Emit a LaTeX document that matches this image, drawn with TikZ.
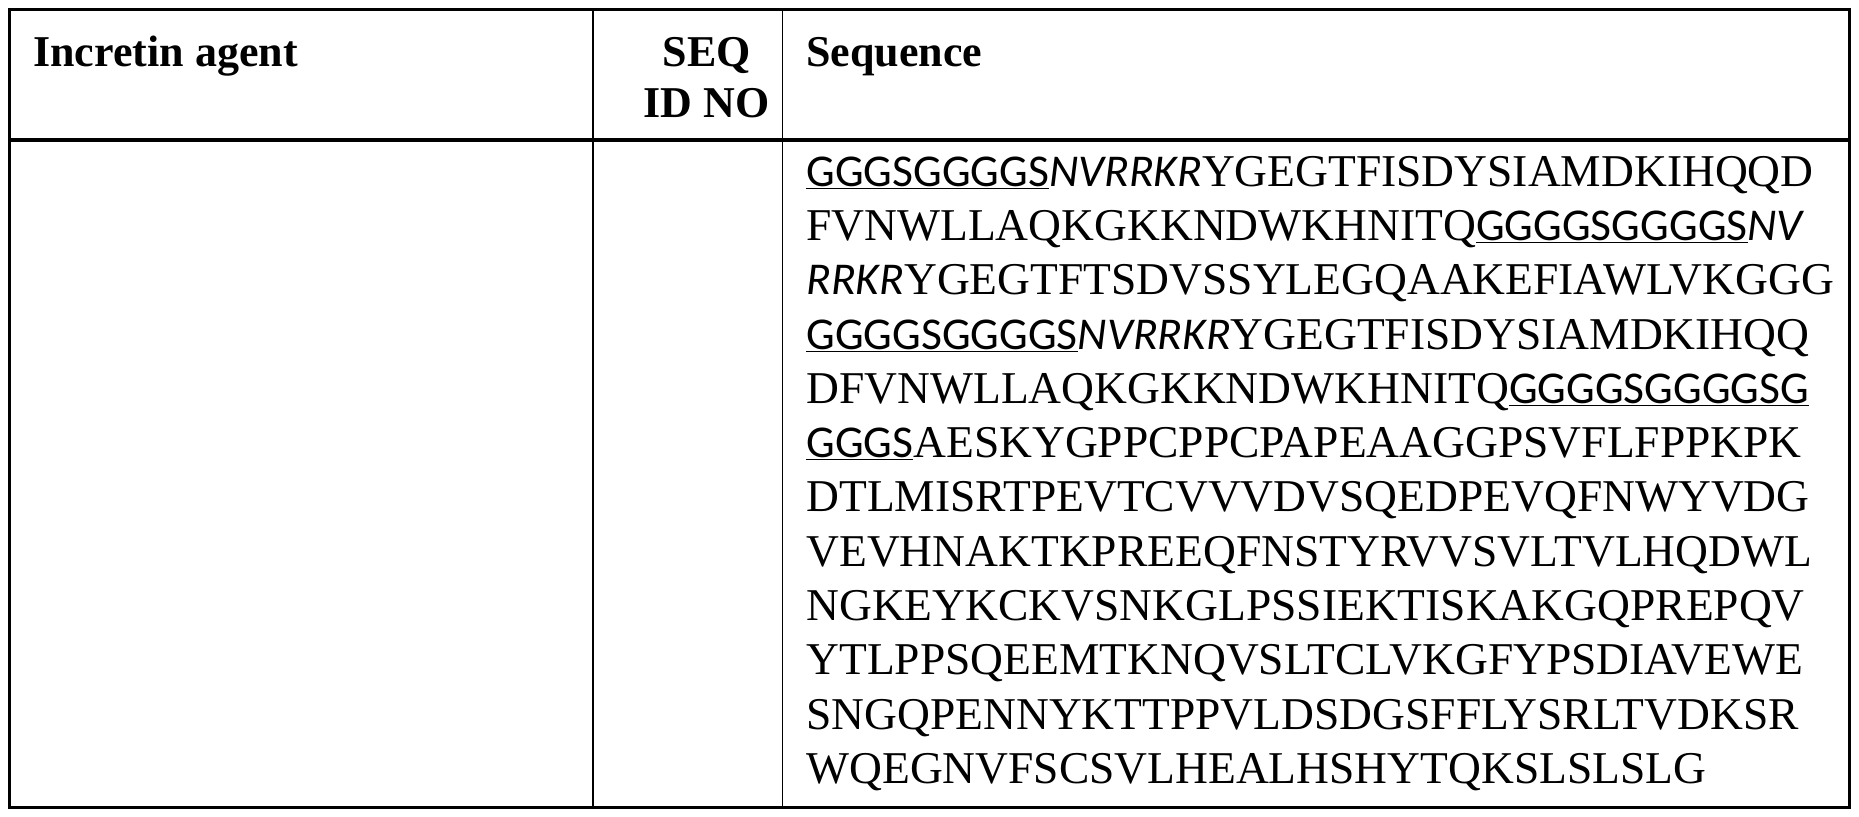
\documentclass[tikz,border=0pt]{standalone}
\usepackage{fontspec}
\setmainfont{Liberation Serif}
\newfontfamily\carl{Carlito}
\newcommand{\lk}[1]{\underline{\carl #1}}
\newcommand{\ik}[1]{{\carl\itshape #1}}
\begin{document}
\begin{tikzpicture}[x=1.1856pt,y=-1.1856pt,
  seq/.style={anchor=base west,inner sep=0pt,font=\fontsize{45.5}{45.5}\selectfont},
  hd/.style={anchor=base west,inner sep=0pt,font=\fontsize{44}{44}\selectfont\bfseries}]
\useasboundingbox (0,0) rectangle (1568,689);
\draw[line width=3.5pt] (8,8) rectangle (1560,681);
\draw[line width=3.5pt] (8,118) -- (1560,118);
\draw[line width=1.5pt] (500,8) -- (500,681);
\draw[line width=1.5pt] (660,8) -- (660,681);
\node[hd] (h1) at (28,56) {Incretin agent};
\node[hd,anchor=base] (h2) at (596,56) {SEQ};
\node[hd,anchor=base] (h3) at (596,99) {ID NO};
\node[hd] (h4) at (680,56) {Sequence};
\node[seq] (l1) at (680,157) {\lk{GGGSGGGGS}\ik{NVRRKR}YGEGTFISDYSIAMDKIHQQD};
\node[seq] (l2) at (680,202.8) {FVNWLLAQKGKKNDWKHNITQ\lk{GGGGSGGGGS}\ik{NV}};
\node[seq] (l3) at (680,248.6) {\ik{RRKR}YGEGTFTSDVSSYLEGQAAKEFIAWLVKGGG};
\node[seq] (l4) at (680,294.4) {\lk{GGGGSGGGGS}\ik{NVRRKR}YGEGTFISDYSIAMDKIHQQ};
\node[seq] (l5) at (680,340.2) {DFVNWLLAQKGKKNDWKHNITQ\lk{GGGGSGGGGSG}};
\node[seq] (l6) at (680,386) {\lk{GGGS}AESKYGPPCPPCPAPEAAGGPSVFLFPPKPK};
\node[seq] (l7) at (680,431.8) {DTLMISRTPEVTCVVVDVSQEDPEVQFNWYVDG};
\node[seq] (l8) at (680,477.6) {VEVHNAKTKPREEQFNSTYRVVSVLTVLHQDWL};
\node[seq] (l9) at (680,523.4) {NGKEYKCKVSNKGLPSSIEKTISKAKGQPREPQV};
\node[seq] (l10) at (680,569.2) {YTLPPSQEEMTKNQVSLTCLVKGFYPSDIAVEWE};
\node[seq] (l11) at (680,615) {SNGQPENNYKTTPPVLDSDGSFFLYSRLTVDKSR};
\node[seq] (l12) at (680,661) {WQEGNVFSCSVLHEALHSHYTQKSLSLSLG};
\end{tikzpicture}
\end{document}
